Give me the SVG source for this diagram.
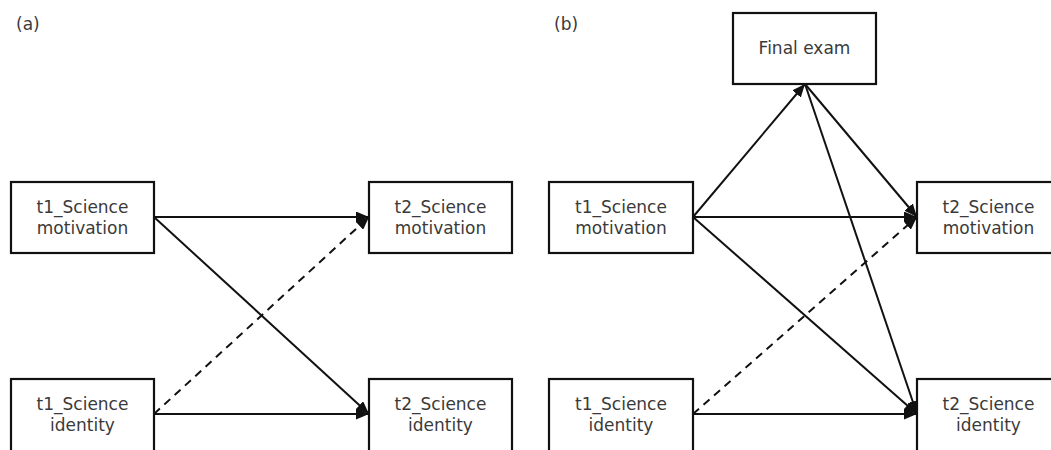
<svg xmlns="http://www.w3.org/2000/svg" width="1051" height="450" viewBox="0 0 1051 450">
  <style>
    .box { fill: #ffffff; stroke: #111111; stroke-width: 2.2; }
    .lbl { font-family: "DejaVu Sans", "Noto Sans", sans-serif; font-size: 17px; fill: #3a3a3a; text-anchor: middle; }
    .tag { font-family: "DejaVu Sans", "Noto Sans", sans-serif; font-size: 17px; fill: #3a3a3a; }
    .edge { fill: none; stroke: #111111; stroke-width: 2; marker-end: url(#arrow); }
    .dash { stroke-dasharray: 8 6; }
  </style>
  <defs>
    <marker id="arrow" viewBox="0 0 13 11" refX="13" refY="5.5" markerWidth="13" markerHeight="11" markerUnits="userSpaceOnUse" orient="auto">
      <path d="M0,0 L13,5.5 L0,11 Z" fill="#111111"/>
    </marker>
  </defs>
  <rect width="1051" height="450" fill="#ffffff"/>

  <text class="tag" x="16" y="30">(a)</text>
  <text class="tag" x="554" y="30">(b)</text>

  <!-- connectors -->
  <g id="connectors">
    <!-- panel a -->
    <line class="edge" x1="154" y1="217" x2="369" y2="217"/>
    <line class="edge" x1="154" y1="217" x2="369" y2="414"/>
    <line class="edge dash" x1="154" y1="414" x2="369" y2="217"/>
    <line class="edge" x1="154" y1="414" x2="369" y2="414"/>
    <!-- panel b -->
    <line class="edge" x1="693" y1="217" x2="805" y2="84"/>
    <line class="edge" x1="693" y1="217" x2="917" y2="217"/>
    <line class="edge" x1="693" y1="217" x2="917" y2="414"/>
    <line class="edge" x1="805" y1="84" x2="917" y2="217"/>
    <line class="edge" x1="805" y1="84" x2="917" y2="414"/>
    <line class="edge dash" x1="693" y1="414" x2="917" y2="217"/>
    <line class="edge" x1="693" y1="414" x2="917" y2="414"/>
  </g>

  <!-- panel a nodes -->
  <g id="a_t1_motivation">
    <rect class="box" x="11" y="182" width="143" height="71"/>
    <text class="lbl" x="82.5" y="213">t1_Science</text>
    <text class="lbl" x="82.5" y="234">motivation</text>
  </g>
  <g id="a_t2_motivation">
    <rect class="box" x="369" y="182" width="143" height="71"/>
    <text class="lbl" x="440.5" y="213">t2_Science</text>
    <text class="lbl" x="440.5" y="234">motivation</text>
  </g>
  <g id="a_t1_identity">
    <rect class="box" x="11" y="379" width="143" height="73"/>
    <text class="lbl" x="82.5" y="410">t1_Science</text>
    <text class="lbl" x="82.5" y="431">identity</text>
  </g>
  <g id="a_t2_identity">
    <rect class="box" x="369" y="379" width="143" height="73"/>
    <text class="lbl" x="440.5" y="410">t2_Science</text>
    <text class="lbl" x="440.5" y="431">identity</text>
  </g>

  <!-- panel b nodes -->
  <g id="b_final_exam">
    <rect class="box" x="733" y="13" width="143" height="71"/>
    <text class="lbl" x="804.5" y="54">Final exam</text>
  </g>
  <g id="b_t1_motivation">
    <rect class="box" x="549" y="182" width="144" height="71"/>
    <text class="lbl" x="621" y="213">t1_Science</text>
    <text class="lbl" x="621" y="234">motivation</text>
  </g>
  <g id="b_t2_motivation">
    <rect class="box" x="917" y="182" width="143" height="71"/>
    <text class="lbl" x="988.5" y="213">t2_Science</text>
    <text class="lbl" x="988.5" y="234">motivation</text>
  </g>
  <g id="b_t1_identity">
    <rect class="box" x="549" y="379" width="144" height="73"/>
    <text class="lbl" x="621" y="410">t1_Science</text>
    <text class="lbl" x="621" y="431">identity</text>
  </g>
  <g id="b_t2_identity">
    <rect class="box" x="917" y="379" width="143" height="73"/>
    <text class="lbl" x="988.5" y="410">t2_Science</text>
    <text class="lbl" x="988.5" y="431">identity</text>
  </g>
</svg>
